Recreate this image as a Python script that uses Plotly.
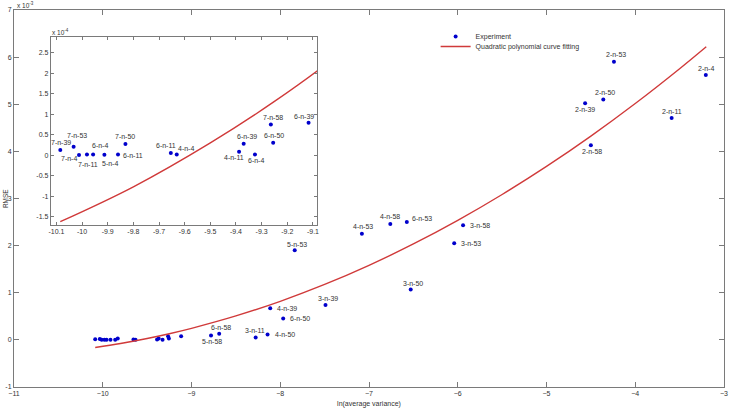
import plotly.graph_objects as go

# ---------------- data (RMSE in units of 1e-3) ----------------
inset_labels = ["7-n-39", "7-n-53", "7-n-4", "7-n-11", "6-n-4", "5-n-4", "6-n-11", "7-n-50",
                "6-n-11", "4-n-4", "4-n-11", "6-n-39", "6-n-4", "7-n-58", "6-n-50", "6-n-39"]
inset_x = [-10.085, -10.033, -10.012, -9.981, -9.957, -9.913, -9.860, -9.831,
           -9.654, -9.631, -9.388, -9.370, -9.326, -9.264, -9.255, -9.117]
inset_y = [0.0128, 0.0208, 0.0007, 0.0020, 0.0020, 0.0014, 0.0020, 0.0274,
           0.0055, 0.0020, 0.0087, 0.0280, 0.0020, 0.0750, 0.0306, 0.0790]

main_labels = ["2-n-53", "2-n-4", "2-n-50", "2-n-39", "2-n-11", "2-n-58", "5-n-53", "4-n-53",
               "4-n-58", "6-n-53", "3-n-58", "3-n-53", "3-n-50", "3-n-39", "4-n-39", "6-n-50",
               "6-n-58", "5-n-58", "3-n-11", "4-n-50"]
main_x = [-4.24, -3.205, -4.36, -4.565, -3.59, -4.50, -7.837, -7.08,
          -6.76, -6.574, -5.94, -6.04, -6.53, -7.49, -8.113, -7.967,
          -8.688, -8.78, -8.277, -8.143]
main_y = [5.90, 5.62, 5.10, 5.02, 4.71, 4.13, 1.90, 2.25,
          2.46, 2.50, 2.43, 2.05, 1.07, 0.74, 0.67, 0.455,
          0.128, 0.094, 0.05, 0.115]

fit_x = [-10.085, -9.8, -9.5, -9.25, -9.0, -8.5, -8.0, -7.5, -7.0, -6.5, -6.0,
         -5.5, -5.0, -4.5, -4.0, -3.5, -3.2]
fit_y = [-0.162, -0.077, 0.030, 0.131, 0.245, 0.508, 0.818, 1.176, 1.582, 2.035, 2.536,
         3.085, 3.680, 4.324, 5.015, 5.754, 6.220]

main_xticks = [-11, -10, -9, -8, -7, -6, -5, -4, -3]
main_yticks = [-1, 0, 1, 2, 3, 4, 5, 6, 7]
inset_xticks = [-10.1, -10.0, -9.9, -9.8, -9.7, -9.6, -9.5, -9.4, -9.3, -9.2, -9.1]
inset_xticktext = ["-10.1", "-10", "-9.9", "-9.8", "-9.7", "-9.6", "-9.5", "-9.4", "-9.3", "-9.2", "-9.1"]
inset_yticks_e4 = [-1.5, -1, -0.5, 0, 0.5, 1, 1.5, 2, 2.5]

# label placement offsets (pixels), anchor
main_off = [(2, 7, "center"), (0, 7, "center"), (2, 7, "center"), (0, -6, "center"),
            (0, 6, "center"), (1, -6, "center"), (2, 6, "center"), (1, 7, "center"),
            (0, 7, "center"), (3, 4, "left"), (5, 0, "left"), (5, 0, "left"),
            (2, 6, "center"), (2, 7, "center"), (5, 0, "left"), (5, 0, "left"),
            (2, 6, "center"), (1, -6, "center"), (-1, 7, "center"), (5, 0, "left")]
inset_off = [(1, 7), (3, 11), (-10, -4), (1, -10), (7, 9), (6, -9), (15, -1), (0, 7),
             (-5, 7), (9, 6), (-5, -6), (3, 7), (1, -6), (2, 7), (1, 7), (-5, 6)]

BLUE = "#0000CC"
RED = "#D03A3A"
TXT = "#333333"
AX = "#7a7a7a"
FONT = "Liberation Sans, Arial, sans-serif"

W, H = 733, 412
ML, MR, MT, MB = 14, 5, 10, 25
PW, PH = W - ML - MR, H - MT - MB


def px_x(p):
    return (p - ML) / PW


def px_y(p):
    return (H - MB - p) / PH


fig = go.Figure()

all_x = inset_x + main_x
all_y = inset_y + main_y

fig.add_trace(go.Scatter(x=all_x, y=all_y, mode="markers", name="Experiment",
                         marker=dict(color=BLUE, size=4), xaxis="x", yaxis="y", legend="legend"))
fig.add_trace(go.Scatter(x=fit_x, y=fit_y, mode="lines", name="Quadratic polynomial curve fitting",
                         line=dict(color=RED, width=1.4, shape="spline"), xaxis="x", yaxis="y",
                         legend="legend2"))
fig.add_trace(go.Scatter(x=fit_x, y=fit_y, mode="lines", showlegend=False,
                         line=dict(color=RED, width=1.4, shape="spline"), xaxis="x2", yaxis="y2"))
fig.add_trace(go.Scatter(x=inset_x, y=inset_y, mode="markers", showlegend=False,
                         marker=dict(color=BLUE, size=4), xaxis="x2", yaxis="y2"))

annotations = []
for lab, x, y, (dx, dy, anc) in zip(main_labels, main_x, main_y, main_off):
    annotations.append(dict(x=x, y=y, xref="x", yref="y", text=lab, showarrow=False,
                            xshift=dx, yshift=dy, xanchor=anc, yanchor="middle",
                            font=dict(size=7, color=TXT, family=FONT)))
for lab, x, y, (dx, dy) in zip(inset_labels, inset_x, inset_y, inset_off):
    annotations.append(dict(x=x, y=y, xref="x2", yref="y2", text=lab, showarrow=False,
                            xshift=dx, yshift=dy, xanchor="center", yanchor="middle",
                            font=dict(size=7, color=TXT, family=FONT)))
# exponent markers
annotations.append(dict(x=px_x(15), y=px_y(5), xref="paper", yref="paper",
                        text="x 10<sup>-3</sup>", showarrow=False, xanchor="left", yanchor="middle",
                        font=dict(size=6.5, color=TXT, family=FONT)))
annotations.append(dict(x=px_x(50), y=px_y(32), xref="paper", yref="paper",
                        text="x 10<sup>-4</sup>", showarrow=False, xanchor="left", yanchor="middle",
                        font=dict(size=6.5, color=TXT, family=FONT)))
# y axis title (at the far left edge, as in the original)
annotations.append(dict(x=px_x(0), y=0.5, xref="paper", yref="paper", text="RMSE",
                        textangle=-90, showarrow=False, xanchor="left", yanchor="middle",
                        font=dict(size=6.5, color=TXT, family=FONT)))

axis_common = dict(showgrid=False, zeroline=False, showline=True, linecolor=AX, linewidth=1,
                   mirror="ticks", ticks="inside", tickcolor=AX,
                   tickfont=dict(size=7, color=TXT, family=FONT))

legend_common = dict(xanchor="left", yanchor="top", bgcolor="rgba(0,0,0,0)",
                     font=dict(size=7, color=TXT, family=FONT))

fig.update_layout(
    width=W, height=H,
    margin=dict(l=ML, r=MR, t=MT, b=MB),
    paper_bgcolor="white", plot_bgcolor="white",
    font=dict(family=FONT, size=7, color=TXT),
    xaxis=dict(range=[-11, -3], tickvals=main_xticks, ticklen=5, anchor="y",
               title=dict(text="ln(average variance)", font=dict(size=7, color=TXT), standoff=4),
               **axis_common),
    yaxis=dict(range=[-1, 7], tickvals=main_yticks, ticktext=[str(v) for v in main_yticks],
               ticklen=5, anchor="x", automargin=False, **axis_common),
    xaxis2=dict(domain=[px_x(51), px_x(319)], range=[-10.122, -9.083], anchor="y2",
                tickvals=inset_xticks, ticktext=inset_xticktext, ticklen=3, **axis_common),
    yaxis2=dict(domain=[px_y(225), px_y(37)], range=[-0.170, 0.288], anchor="x2",
                tickvals=[v / 10 for v in inset_yticks_e4],
                ticktext=[("%g" % v) for v in inset_yticks_e4], ticklen=3, **axis_common),
    legend=dict(x=px_x(438), y=px_y(22), **legend_common),
    legend2=dict(x=px_x(438), y=px_y(32), **legend_common),
    annotations=annotations,
)

fig.write_html("out.html")
